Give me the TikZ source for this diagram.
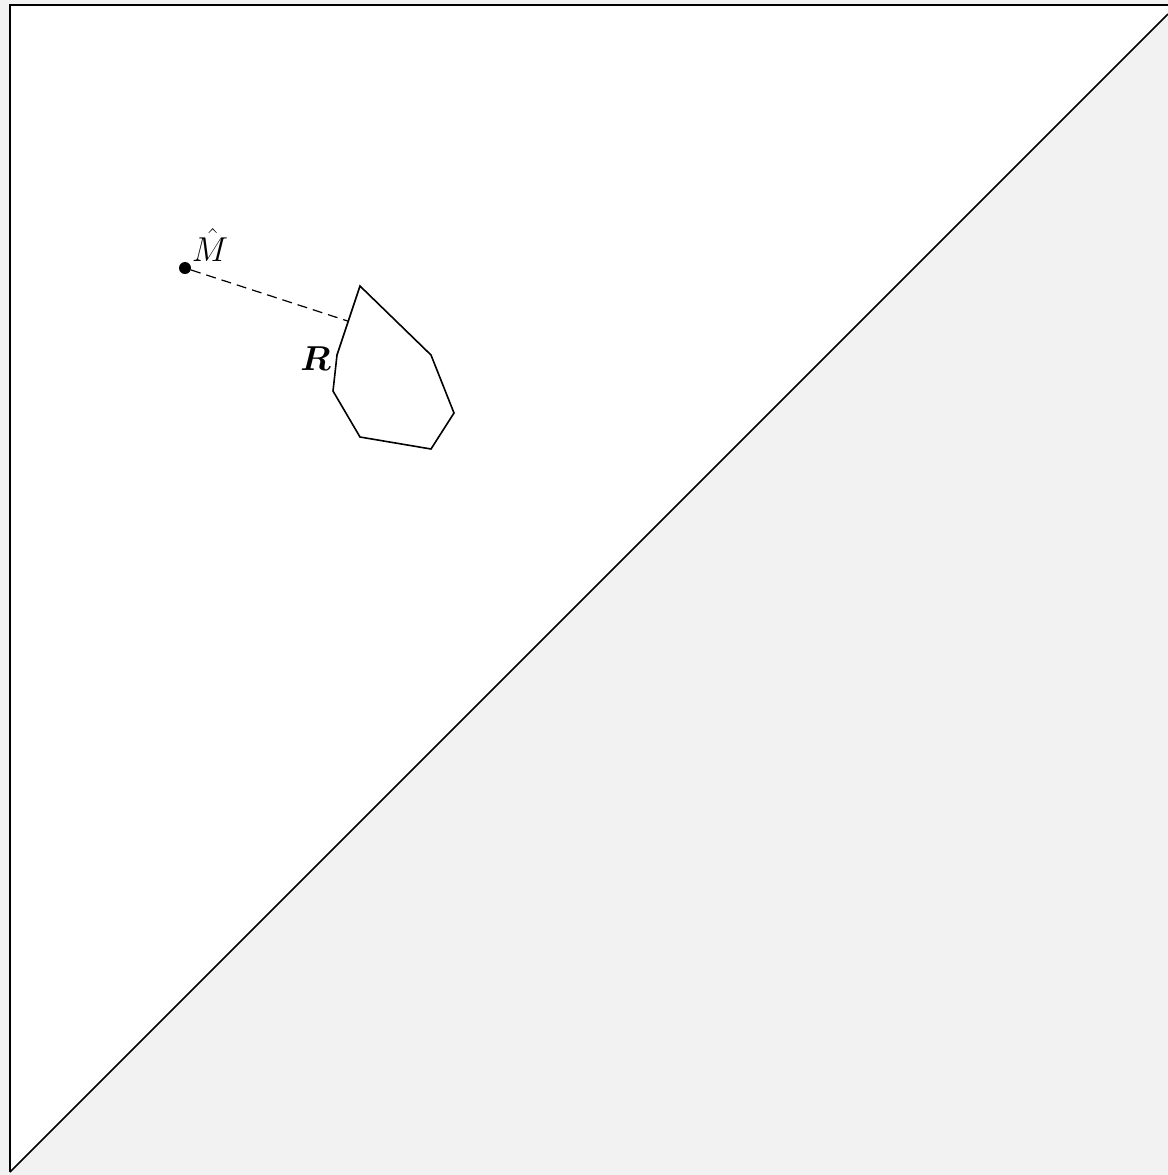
\documentclass[tikz,border=0pt]{standalone}
\usepackage{amsmath}
\usepackage{bm}
\usepackage{tikz}
\usetikzlibrary{positioning, calc}
\definecolor{paper}{RGB}{242,242,242}

\begin{document}
\begin{tikzpicture}[x=0.5pt, y=-0.5pt, every node/.style={font=\fontsize{17}{19}\selectfont}, outline/.style={draw=black, line width=0.8pt}, dot/.style={circle, fill=black, inner sep=0pt, minimum size=6pt}]
    \useasboundingbox (0,0) rectangle (1168,1175);
    \fill[paper] (0,0) rectangle (1168,1175);

    % Region
    \fill[white] (10,5) -- (1168,5) -- (1168,14) -- (10,1172) -- cycle;
    \draw[outline] (10,1172) -- (10,5) -- (1168,5);
    \draw[outline] (10,1172) -- (1168,14);

    % Set R
    \coordinate (r1) at (360,286);
    \coordinate (r2) at (431,355);
    \coordinate (r3) at (454,413);
    \coordinate (r4) at (431,449);
    \coordinate (r5) at (360,437);
    \coordinate (r6) at (333,391);
    \coordinate (r7) at (337,355);
    \draw[outline] (r1) -- (r2) -- (r3) -- (r4) -- (r5) -- (r6) -- (r7) -- cycle;
    \node[left=2pt of r7, yshift=-2pt, inner sep=1pt] (rlab) {$\bm{R}$};

    % Point and distance
    \node[dot] (mhat) at (185,268) {};
    \node[above right=0pt and 0pt of mhat, inner sep=1pt] (mlab) {$\hat{M}$};
    \coordinate (proj) at ($(r7)!0.49!(r1)$);
    \draw[dash pattern={on 5pt off 3pt}, line width=0.6pt] (mhat) -- (proj);
\end{tikzpicture}
\end{document}
